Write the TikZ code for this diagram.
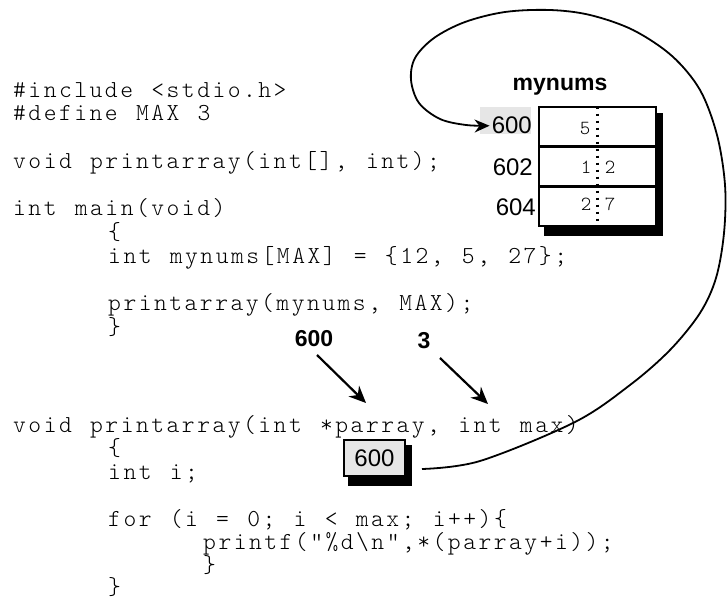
\documentclass[tikz,border=0pt]{standalone}
\usepackage{fontspec}
\newfontfamily\labfont{Liberation Sans}
\newfontfamily\codefont{lmmonolt10-regular.otf}[LetterSpace=10.2,WordSpace=1.194]
\newfontfamily\valfont{lmmonolt10-regular.otf}
\usetikzlibrary{arrows.meta}
\definecolor{lgray}{HTML}{E6E6E6}
\frenchspacing
\begin{document}
\begin{tikzpicture}[x=1pt,y=-1pt,
  code/.style={anchor=base west, inner sep=0pt,
    font=\fontsize{24.4}{24.4}\codefont\selectfont},
  val/.style={anchor=base, inner sep=0pt,
    font=\fontsize{20}{20}\valfont\selectfont},
  addr/.style={inner sep=0pt, font=\fontsize{24}{24}\labfont\selectfont},
  blab/.style={inner sep=0pt, font=\fontsize{23}{23}\labfont\bfseries\selectfont},
  cell/.style={draw, line width=2.5pt, fill=white, minimum width=117pt, minimum height=39.7pt, inner sep=0pt},
  arr/.style={line width=2.2pt, -{Stealth[length=17pt,width=15pt]}},
  loop/.style={line width=1.8pt, -{Stealth[length=15pt,width=13pt]}}
]
\useasboundingbox (0,0) rectangle (727,601);

% ---- code, top block ----
\node[code] (c0) at (13,97.3) {\#include <stdio.h>};
\node[code] (c1) at (13,121) {\#define MAX 3};
\node[code] (c3) at (13,168.4) {void printarray(int[], int);};
\node[code] (c5) at (13,215.8) {int main(void)};
\node[code] (c6) at (108,239.5) {\{};
\node[code] (c7) at (108,263.2) {int mynums[MAX] = \{12, 5, 27\};};
\node[code] (c9) at (108,310.6) {printarray(mynums, MAX);};
\node[code] (c10) at (108,334.3) {\}};

% ---- code, bottom block ----
\node[code] (d0) at (13,432) {void printarray(int *parray, int max)};
\node[code] (d1) at (108,455.5) {\{};
\node[code] (d2) at (108,479) {int i;};
\node[code] (d4) at (108,526) {for (i = 0; i < max; i++)\{};
\node[code] (d5) at (203,549.5) {printf("\%d\textbackslash n",*(parray+i));};
\node[code] (d6) at (203,572) {\}};
\node[code] (d7) at (108,594) {\}};

% ---- memory box ----
\fill (544,113) rectangle (663,236);
\node[cell] (r1) at (597.5,126.8) {};
\node[cell] (r2) at (597.5,166.5) {};
\node[cell] (r3) at (597.5,206.2) {};
\draw[line width=2.5pt, dash pattern=on 2.5pt off 4.5pt] (r1.north) ++(0,1) -- ([yshift=-1pt]r3.south);
\node[val] (v1) at (585,135) {5};
\node[val] (v2a) at (586,174) {1};
\node[val] (v2b) at (610,174) {2};
\node[val] (v3a) at (586,211) {2};
\node[val] (v3b) at (610,211) {7};
\node[blab] (mn) at (560,87) {mynums};

\fill[lgray] (480,107) rectangle (531,134);
\node[addr, anchor=base east] (m600) at (532,134) {600};
\node[addr, anchor=base east] (m602) at (533,176) {602};
\node[addr, anchor=base east] (m604) at (536,216) {604};

% ---- passed values ----
\node[blab] (l600) at (314,339) {600};
\node[blab] (l3) at (424,341) {3};
\coordinate (a1s) at (317,355);
\coordinate (a1e) at (366,403);
\coordinate (a2s) at (440,358);
\coordinate (a2e) at (488,404);
\draw[arr] (a1s) -- (a1e);
\draw[arr] (a2s) -- (a2e);

% ---- parray box ----
\fill (348,445) rectangle (412,486);
\node[draw, line width=2pt, fill=lgray, minimum width=61pt, minimum height=36pt, inner sep=0pt, addr] (pb) at (374.5,458) {600};

% ---- pointer loop ----
\coordinate (cs) at (422,469);
\draw[loop] plot[smooth, tension=0.55] coordinates {(cs) (480,461) (575,422) (630,385) (670,350) (700,313) (716,278) (724,233) (725,185) (717,135) (700,90) (672,56) (633,30) (590,15) (550,10) (505,12) (465,22) (434,38) (415,58) (411,80) (419,103) (440,119) (466,125) ([xshift=-2pt]m600.west)};
\end{tikzpicture}
\end{document}
